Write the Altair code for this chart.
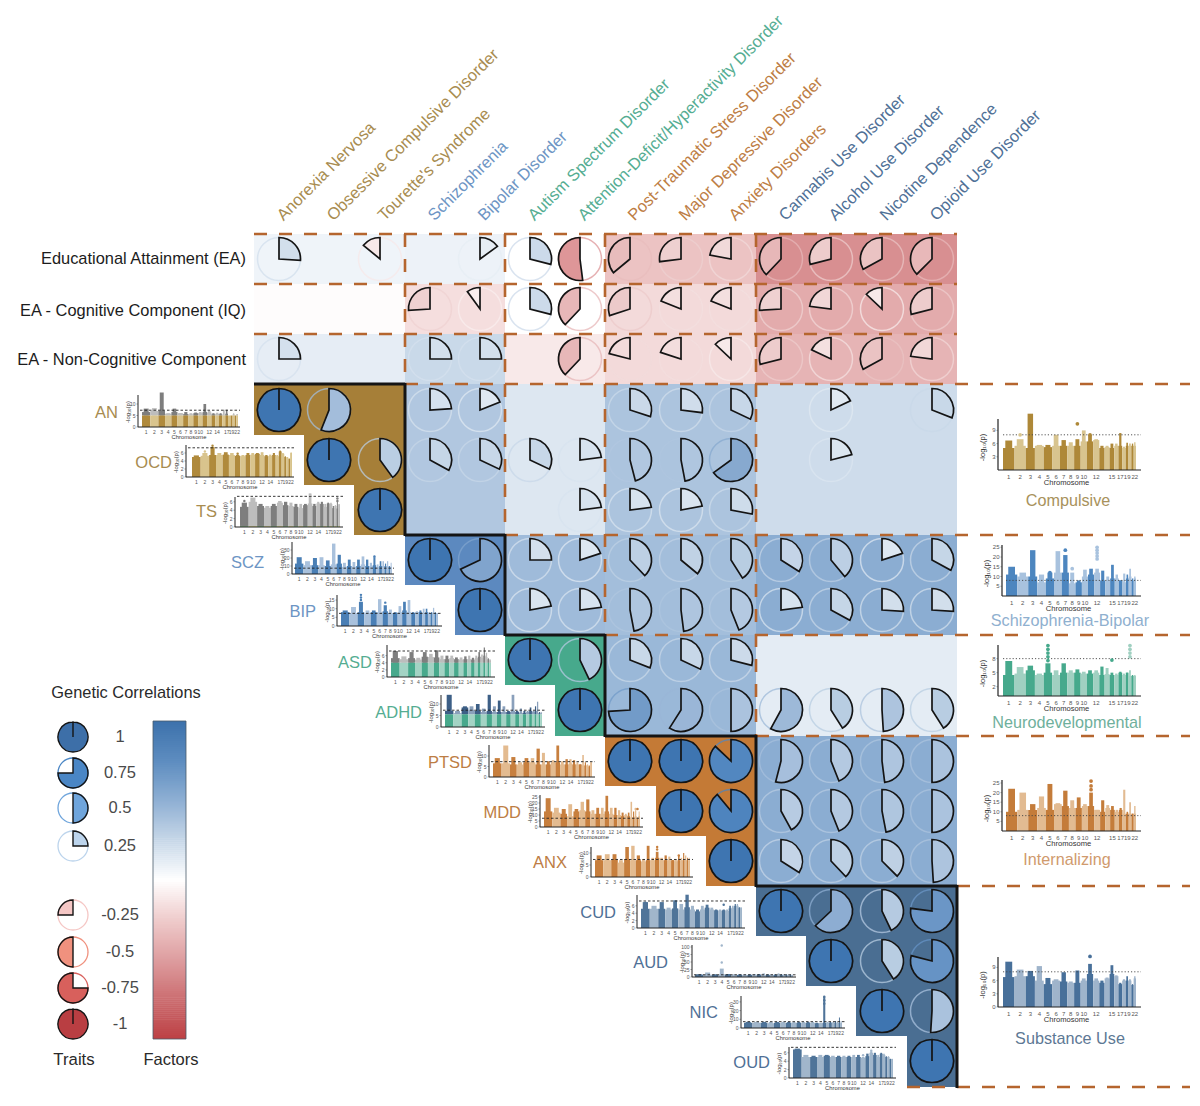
import math
import altair as alt
import numpy as np

_ = None
FONT = "Liberation Sans"
TRAITS = ["AN", "OCD", "TS", "SCZ", "BIP", "ASD", "ADHD", "PTSD", "MDD", "ANX", "CUD", "AUD", "NIC", "OUD"]
FULL_NAMES = ["Anorexia Nervosa", "Obsessive Compulsive Disorder", "Tourette's Syndrome", "Schizophrenia",
              "Bipolar Disorder", "Autism Spectrum Disorder", "Attention-Deficit/Hyperactivity Disorder",
              "Post-Traumatic Stress Disorder", "Major Depressive Disorder", "Anxiety Disorders",
              "Cannabis Use Disorder", "Alcohol Use Disorder", "Nicotine Dependence", "Opioid Use Disorder"]
EA_ROWS = ["Educational Attainment (EA)", "EA - Cognitive Component (IQ)", "EA - Non-Cognitive Component"]
FACTORS = ["Compulsive", "Schizophrenia-Bipolar", "Neurodevelopmental", "Internalizing", "Substance Use"]
BLOCKS = [(0, 3), (3, 5), (5, 7), (7, 10), (10, 14)]

# genetic correlations drawn as pies: 3 EA rows + 14 trait rows, 14 columns
PIE_R = [
    [.26, _, -.14, _, .15, .29, -.52, -.36, -.27, -.22, -.38, -.29, -.33, -.375],
    [_, _, _, -.26, -.10, .29, -.38, -.30, -.19, -.19, -.26, -.23, -.13, -.29],
    [.25, _, _, .25, .25, _, -.38, -.21, -.20, -.13, -.29, -.18, -.33, -.23],
    [1, .56, _, .24, .19, _, _, .30, .27, .32, _, .18, _, .31],
    [_, 1, .40, .33, .32, .32, .23, .46, .47, .65, _, .21, _, _],
    [_, _, 1, _, _, _, .23, .23, .22, .28, _, _, _, _],
    [_, _, _, 1, .68, .25, .20, .38, .36, .41, .34, .39, .20, .33],
    [_, _, _, _, 1, .22, .23, .47, .48, .44, .23, .33, .26, .26],
    [_, _, _, _, _, 1, .43, .31, .32, .29, _, _, _, _],
    [_, _, _, _, _, _, 1, .74, .59, .50, .58, .41, .49, .41],
    [_, _, _, _, _, _, _, 1, 1, .87, .54, .44, .48, .50],
    [_, _, _, _, _, _, _, _, 1, .89, .42, .44, .47, .50],
    [_, _, _, _, _, _, _, _, _, 1, .34, .38, .375, .49],
    [_, _, _, _, _, _, _, _, _, _, 1, .63, .43, .77],
    [_, _, _, _, _, _, _, _, _, _, _, 1, .41, .79],
    [_, _, _, _, _, _, _, _, _, _, _, _, 1, .51],
    [_, _, _, _, _, _, _, _, _, _, _, _, _, 1],
]
# factor-level correlations shown as cell shading
EA_FACTOR = [[.07, .08, 0, -.30, -.58], [-.015, -.16, 0, -.18, -.43], [.11, .24, -.11, -.18, -.38]]
FACTOR_FACTOR = [[_, .35, .15, .37, .22], [_, _, .43, .41, .52], [_, _, _, .45, .12], [_, _, _, _, .52], [_, _, _, _, _]]

LEGEND_VALUES = [1, .75, .5, .25, -.25, -.5, -.75, -1]
LEGEND_LABELS = ["1", "0.75", "0.5", "0.25", "-0.25", "-0.5", "-0.75", "-1"]
LEGEND_COLORS = ["#3d6fa8", "#4a86c5", "#6fa5dc", "#bcd4ec", "#f5c7c5", "#f0917e", "#d8605c", "#b93e42"]

# palette
GROUP_BLOCK = ["#a67f38", "#5c89bf", "#47a98c", "#c47a36", "#4a6e92"]
GROUP_TEXT = ["#a88c50", "#6d95c4", "#55ad92", "#bd7d44", "#4f7096"]
FACTOR_TEXT = ["#a8925c", "#8fb0cf", "#6fb09c", "#d09a6d", "#5d7894"]
CELL_STOPS = [(-1, "#bd4145"), (-.75, "#cc6f72"), (-.5, "#de9ea0"), (-.25, "#efcccc"), (0, "#ffffff"),
              (.25, "#c7d7e8"), (.5, "#8fb0d4"), (.75, "#5e8dc0"), (1, "#3d72ac")]
PIE_STOPS = [(-1, "#b93e42"), (-.52, "#de9698"), (-.4, "#e6b2b3"), (-.3, "#eccaca"), (-.15, "#f6e6e6"), (0, "#ffffff"),
             (.2, "#dde7f1"), (.3, "#cad9e9"), (.45, "#b2c8e0"), (.56, "#a3bddb"), (.65, "#87a9cf"),
             (.77, "#6b96c6"), (.88, "#4f85bf"), (1, "#3e75b1")]
DASH_BROWN = "#b5652e"
INK = "#141414"


def ramp(v, stops):
    for (a, ca), (b, cb) in zip(stops, stops[1:]):
        if a <= v <= b:
            t = (v - a) / (b - a)
            rgb = [round(int(ca[i:i + 2], 16) * (1 - t) + int(cb[i:i + 2], 16) * t) for i in (1, 3, 5)]
            return "#%02x%02x%02x" % tuple(rgb)
    return stops[-1][1]


def gx(c):
    return round(254 + 50.2 * c)


def gy(r):
    return round(234 + 50.15 * r)


CHR_MB = [249, 243, 198, 191, 181, 171, 159, 146, 141, 135, 135, 133, 115, 107, 102, 90, 81, 78, 59, 63, 48, 51]
TICKS_TRAIT = [1, 2, 3, 4, 5, 6, 7, 8, 9, 10, 12, 14, 17, 19, 22]
TICKS_FACTOR = [1, 2, 3, 4, 5, 6, 7, 8, 9, 10, 12, 15, 17, 19, 22]
GOLD = ("#b08a3c", "#d9c48d")
GRAY = ("#7e7e7e", "#bdbdbd")
BLUE = ("#4a7fb5", "#a9c1dc")
TEAL = ("#48a98c", "#a3d3c4")
ORNG = ("#c77f3e", "#e3bb90")
NAVY = ("#4f7499", "#a1b6cb")

# trait Manhattan panels: sky = typical top per chromosome, peak = tallest signal per chromosome
SKY_AN = [6.5, 7, 7, 5.8, 6.5, 6, 5.6, 5.5, 6, 6, 6.5, 6.3, 5.5, 5.8, 5.5, 5.3, 5.8, 5, 5, 5.5, 5, 5.5]
PEAK_AN = [8, 8.2, 15, 6, 8, 6, 6.5, 6, 6.3, 6.5, 10, 7, 6, 6.2, 6, 7.5, 7.5, 5, 5, 6, 5, 5.5]
SKY_OCD = [5, 5.3, 5.5, 5.5, 5.6, 5.5, 5.3, 5.2, 5.5, 5.6, 5.8, 5.5, 5.2, 5.3, 5.5, 5.2, 6.4, 5.8, 5, 4.8, 4.5, 6]
PEAK_OCD = [5.4, 6, 7.5, 6, 6.2, 6, 5.5, 5.5, 6, 6, 6, 6.2, 5.5, 5.6, 6, 5.5, 6.6, 6, 5.2, 5, 4.6, 6.2]
SKY_TS = [4.8, 6, 5, 4.6, 5, 5.8, 5.2, 5, 4.8, 4.5, 5.2, 5.6, 5, 5.6, 5.5, 4.8, 5.6, 5.5, 4.5, 5, 4.4, 5.4]
PEAK_TS = [5.8, 7, 5.5, 5, 5.5, 6.2, 6, 5.8, 5.5, 5.5, 5.5, 8, 5.5, 6, 6, 5.5, 5.8, 5.8, 5, 5.2, 6.2, 5.4]
SKY_SCZ = [13, 11, 11, 11, 10, 12, 13, 9, 10, 9, 10, 12, 10, 10, 11, 9, 10, 10, 10, 10, 9, 9]
PEAK_SCZ = [21, 16, 20, 21, 17, 38, 24, 14, 18, 15, 18, 22, 18, 14, 21, 12, 16, 16, 13, 16, 10, 14]
SKY_BIP = [8, 7.5, 8, 7.5, 8, 8, 8.5, 7.5, 7.5, 8, 9, 8, 7.5, 8, 8, 7.5, 8, 7.5, 7.5, 8, 7.5, 7.5]
PEAK_BIP = [9, 11, 14, 9, 9, 15.5, 12, 9.5, 8, 11.5, 14, 15, 8, 8.5, 9, 10, 10, 8, 8, 10.5, 8, 7.5]
SKY_ASD = [5.3, 5, 5.3, 4.9, 5.7, 5.6, 5.5, 5, 5, 5.3, 5, 4.9, 5, 5, 4.9, 5.3, 5.7, 5.4, 6, 5.6, 5, 4.7]
PEAK_ASD = [7.3, 5.8, 7, 5.4, 7, 6.5, 7.5, 6, 6, 6, 5.5, 5.5, 5.8, 6, 5.4, 6, 7, 6.3, 8.3, 6.8, 5.3, 5]
SKY_ADHD = [7, 6, 8.5, 7.5, 7, 6.5, 7, 6.5, 6.5, 6.5, 6.5, 7, 6.5, 6.2, 6, 6.5, 7, 6.5, 7, 6, 6, 6]
PEAK_ADHD = [14, 7, 9, 9, 10, 8, 14, 9, 11.5, 9, 7, 14, 7, 8, 7, 7, 8.5, 7, 9, 11, 6.5, 6.5]
SKY_PTSD = [6.5, 6.5, 6, 6, 7, 7, 6, 6, 6, 7, 7, 6, 6, 6.5, 6, 6, 6, 5.5, 5.5, 5.5, 5, 7]
PEAK_PTSD = [9, 15, 9.5, 7, 9, 9, 13.5, 11.5, 7.5, 8, 15, 7.5, 8.5, 8.5, 8, 7, 6, 10.5, 7, 6, 5.5, 7]
SKY_MDD = [13, 12, 11, 9, 13, 14, 13, 11, 11, 11, 13, 11, 10, 10, 9, 10, 9, 8, 8, 9, 7, 9]
PEAK_MDD = [24, 16, 15, 19, 15, 21, 23, 14, 16, 16, 26, 16, 16, 14, 12, 11, 12, 21, 13, 14, 8, 13]
SKY_ANX = [7, 7, 7.2, 6, 7.5, 7, 7, 6.5, 7, 7, 8, 7, 7, 7, 7, 6.5, 7, 7, 7, 7, 7, 7]
PEAK_ANX = [9, 9.5, 9.5, 7, 12.5, 13, 9, 7.5, 13, 8, 10.5, 8, 9, 8.5, 7, 7.5, 9, 8, 10, 9, 8, 8]
SKY_CUD = [5.2, 5.2, 5.2, 5, 5.3, 5, 5.6, 5, 4.5, 5, 5.5, 5, 4.8, 4.7, 4.8, 4.6, 5.3, 5.5, 6, 6, 5.5, 5.5]
PEAK_CUD = [7, 6, 7, 5.5, 7.5, 6.5, 9, 6, 5, 6, 6.3, 5.5, 5, 5, 5, 5, 6, 6, 6.5, 6.5, 5.6, 5.6]
SKY_AUD = [8, 8, 7, 9, 8, 7, 7, 7, 7, 8, 7, 7, 7, 7, 7, 8, 7, 7, 7, 7, 7, 7]
PEAK_AUD = [9, 15, 9, 28, 10, 9, 9, 9, 9, 10, 10, 12, 9, 9, 9, 12, 9, 10, 9, 9, 8, 8]
SKY_NIC = [6, 6, 6, 5.5, 6, 6, 6, 6, 6, 6, 6, 6, 5.5, 5.5, 6, 6, 6, 6, 6, 6, 6, 6]
PEAK_NIC = [7, 7, 7, 7, 7, 7, 7, 7, 7, 7, 7, 7, 6, 6, 36, 7, 7, 7, 8, 7, 12, 8]
SKY_OUD = [6.8, 5, 5, 5, 5.3, 5, 5, 5, 5, 5, 5, 4.8, 5.2, 6, 5.5, 5, 5.8, 5.5, 5, 5, 4.5, 4.5]
PEAK_OUD = [7, 5.5, 5.3, 5.5, 5.5, 5.3, 5.3, 5.3, 5.3, 5.5, 5.5, 5, 5.8, 6.3, 6, 5.5, 6, 5.8, 5.2, 5.2, 4.6, 4.6]
# factor Manhattan panels
SKY_COMP = [5, 5.5, 5, 5.5, 5.2, 5.5, 5.5, 5.5, 5.5, 6.5, 6.5, 6.8, 5, 5.2, 5, 5.5, 5.5, 5, 5.5, 5.5, 5.5, 5.5]
PEAK_COMP = [6.7, 7, 12.8, 5.7, 5.7, 8, 6.8, 6.3, 7, 9, 8, 7, 5.5, 5.5, 6, 6, 8.4, 5.3, 6.2, 6, 6, 6.3]
SKY_SB = [11, 10, 10, 7, 9, 12, 12, 6.5, 7, 10, 11, 12, 8, 8, 9, 9, 8, 7, 9, 10, 8, 9]
PEAK_SB = [15, 12, 23.5, 11, 12, 23, 21, 12, 8, 13.5, 14, 14, 13, 10, 16, 11, 8, 11.5, 11, 14, 9, 10]
SKY_ND = [4.5, 4.8, 5.5, 4.5, 5, 4.5, 5, 5, 5, 4.8, 4.8, 5, 4.5, 4.7, 4.5, 4.5, 5, 4.5, 5, 4.3, 4.3, 4.3]
PEAK_ND = [7.5, 6.2, 6.5, 4.8, 7, 5.5, 7, 5.5, 5.7, 5.2, 5.5, 5.5, 6.3, 6, 5, 4.8, 5.2, 4.8, 5, 5.5, 4.5, 4.5]
SKY_INT = [10, 11, 11, 12, 11, 14, 13, 12, 12, 13, 13, 11, 10, 12, 11, 10, 11, 9, 9, 9, 9, 9]
PEAK_INT = [22, 20, 14, 18, 24.5, 14.5, 21, 16, 17.5, 14, 20, 11, 16, 13.5, 13, 11, 12, 21.5, 10, 15, 9, 13]
SKY_SU = [6.8, 7, 7, 6, 5.2, 6, 5.8, 5.5, 5.5, 6, 7.5, 6, 5.5, 6.5, 7.5, 7, 5.2, 6, 6, 6, 5, 6.5]
PEAK_SU = [10.3, 8.5, 8.2, 9.3, 6.6, 6.3, 7.9, 5.8, 8.3, 6.5, 9.8, 6.5, 6, 6.7, 9.5, 7.2, 5.5, 6.3, 7, 6.3, 5.2, 7]

# scale of each panel: axis x0, x1, first bar, last bar, baseline, top, px per unit, threshold, y ticks
PANELS_T = [
    dict(box=(138, 240, 142, 238, 427, 395), ppu=2.3, thr=7.3, yt=[0, 5, 10], col=GOLD, sky=SKY_AN, peak=PEAK_AN, cap=5, up=GRAY, dots=[]),
    dict(box=(186, 294, 192, 292, 477, 445), ppu=4.0, thr=7.3, yt=[0, 2, 4, 6], col=GOLD, sky=SKY_OCD, peak=PEAK_OCD, cap=None, up=None, dots=[(2, 7.8), (1, 6.4), (6, 5.8)]),
    dict(box=(235, 343, 240, 340, 527, 497), ppu=4.2, thr=7.3, yt=[0, 2, 4, 6], col=("#7fa67f", "#c9c68a"), sky=SKY_TS, peak=PEAK_TS, cap=.25, up=GRAY, dots=[(0, 6.2), (20, 6.8), (20, 6.2), (11, 7.6)]),
    dict(box=(292, 394, 295, 392, 574, 542), ppu=.8, thr=7.3, yt=[0, 10, 20, 30], col=BLUE, sky=SKY_SCZ, peak=PEAK_SCZ, cap=None, up=None, dots=[(14, 22)]),
    dict(box=(337, 442, 341, 438, 626, 595), ppu=1.73, thr=7.3, yt=[0, 5, 10, 15], col=BLUE, sky=SKY_BIP, peak=PEAK_BIP, cap=None, up=None, dots=[(2, 18), (2, 16.5), (2, 15), (6, 13.5)]),
    dict(box=(387, 495, 391, 491, 677, 645), ppu=3.56, thr=7.3, yt=[0, 2, 4, 6], col=TEAL, sky=SKY_ASD, peak=PEAK_ASD, cap=4, up=GRAY, dots=[]),
    dict(box=(441, 545, 445, 542, 727, 695), ppu=2.3, thr=7.3, yt=[0, 5, 10], col=TEAL, sky=SKY_ADHD, peak=PEAK_ADHD, cap=5.5, up=("#3d5f86", "#8aa0bb"), dots=[]),
    dict(box=(489, 595, 493, 592, 777, 745), ppu=2.1, thr=7.3, yt=[0, 5, 10], col=ORNG, sky=SKY_PTSD, peak=PEAK_PTSD, cap=None, up=None, dots=[]),
    dict(box=(540, 643, 544, 640, 827, 795), ppu=1.2, thr=7.3, yt=[0, 5, 10, 15, 20, 25], col=ORNG, sky=SKY_MDD, peak=PEAK_MDD, cap=None, up=None, dots=[(19, 15), (20, 15)]),
    dict(box=(591, 693, 595, 690, 877, 847), ppu=2.4, thr=7.3, yt=[0, 5, 10], col=ORNG, sky=SKY_ANX, peak=PEAK_ANX, cap=None, up=None, dots=[(10, 12.5), (10, 11.5), (16, 9)]),
    dict(box=(637, 745, 641, 742, 928, 895), ppu=3.7, thr=7.3, yt=[0, 2, 4, 6], col=NAVY, sky=SKY_CUD, peak=PEAK_CUD, cap=None, up=None, dots=[(0, 6.8), (14, 6.3)]),
    dict(box=(692, 796, 695, 793, 977, 945), ppu=.3, thr=7.3, yt=[0, 25, 50, 75, 100], col=NAVY, sky=SKY_AUD, peak=PEAK_AUD, cap=None, up=None, dots=[(3, 105), (3, 48)]),
    dict(box=(741, 845, 744, 842, 1028, 996), ppu=.87, thr=7.3, yt=[0, 10, 20, 30], col=NAVY, sky=SKY_NIC, peak=PEAK_NIC, cap=None, up=None, dots=[(14, 36), (14, 32), (14, 28)]),
    dict(box=(789, 896, 793, 893, 1078, 1047), ppu=4.2, thr=7.3, yt=[0, 2, 4, 6], col=NAVY, sky=SKY_OUD, peak=PEAK_OUD, cap=None, up=None, dots=[(11, 5.4), (13, 6.5)]),
]
PANELS_F = [
    dict(box=(998, 1141, 1003, 1136, 470, 419), ppu=4.4, thr=8, yt=[3, 6, 9], col=("#ae8838", "#d8c48f"), sky=SKY_COMP, peak=PEAK_COMP, cap=None, up=None, dots=[(8, 10.5), (1, 8), (10, 8)]),
    dict(box=(1002, 1141, 1006, 1136, 596, 545), ppu=1.95, thr=8, yt=[5, 10, 15, 20, 25], col=("#4d86bf", "#a8c2de"), sky=SKY_SB, peak=PEAK_SB, cap=None, up=None, dots=[(11, 25), (11, 23.5), (11, 22), (11, 20.5), (11, 19), (7, 14), (6, 23.5), (4, 12)]),
    dict(box=(998, 1141, 1003, 1136, 696, 645), ppu=4.67, thr=8, yt=[2, 5, 8], col=("#46a98c", "#a0d0c1"), sky=SKY_ND, peak=PEAK_ND, cap=None, up=None, dots=[(4, 10.8), (4, 10), (4, 9.2), (4, 8.4), (4, 7.6), (19, 10.8), (19, 10), (19, 9.2), (19, 8.4), (14, 7.7)]),
    dict(box=(1002, 1141, 1006, 1136, 831, 780), ppu=1.92, thr=8, yt=[5, 10, 15, 20, 25], col=("#c47c3a", "#e2bb92"), sky=SKY_INT, peak=PEAK_INT, cap=None, up=None, dots=[(10, 26), (10, 23.5), (10, 21.5), (4, 17), (4, 15)]),
    dict(box=(998, 1141, 1003, 1136, 1007, 957), ppu=4.4, thr=8, yt=[0, 3, 6, 9], col=("#48709a", "#9fb4cb"), sky=SKY_SU, peak=PEAK_SU, cap=None, up=None, dots=[(10, 11.5)]),
]
TRAIT_LABEL_RIGHT = [118, 172, 217, 264, 316, 372, 422, 472, 521, 567, 616, 668, 718, 770]
TRAIT_LABEL_Y = [413, 463, 512, 563, 612, 663, 713, 763, 813, 863, 913, 963, 1013, 1063]
FACTOR_TITLE_X = [1068, 1070, 1067, 1067, 1070]
FACTOR_TITLE_Y = [501, 621, 723, 860, 1039]
EA_ROW_Y = [259, 311, 360]

rects, rules_solid, rules_frame, rules_thin_dash, rules_dots, rules_big, rules_black, texts_l, texts_c, texts_r, dots_rows = ([] for _i in range(11))
rings, pies = [], []


def rect(x, x2, y, y2, c):
    rects.append(dict(x=x, x2=x2, y=y, y2=y2, c=c))


def label(store, x, y, t, s, c, a=0):
    store.append(dict(x=x, y=y, t=t, s=s, c=c, a=a))


# ----- matrix cells -----
for r, row in enumerate(EA_FACTOR):
    for f, v in enumerate(row):
        rect(gx(BLOCKS[f][0]), gx(BLOCKS[f][1]), gy(r), gy(r + 1), ramp(v, CELL_STOPS))
for i, row in enumerate(FACTOR_FACTOR):
    for f, v in enumerate(row):
        if v is not None:
            rect(gx(BLOCKS[f][0]), gx(BLOCKS[f][1]), gy(3 + BLOCKS[i][0]), gy(3 + BLOCKS[i][1]), ramp(v, CELL_STOPS))
for f, (a, b) in enumerate(BLOCKS):
    for k in range(a, b):
        rect(gx(k), gx(b), gy(3 + k), gy(4 + k), GROUP_BLOCK[f])

# ----- pies -----
TWO_PI = 2 * math.pi


def pie_row(cx, cy, v, fill, store_ring, store_pie, ring=True):
    a = abs(v) * TWO_PI if abs(v) < 1 else TWO_PI - .0006
    t0, t1 = (0, a) if v > 0 else (TWO_PI - a, TWO_PI)
    if ring:
        store_ring.append(dict(x=cx, y=cy, t0=0, t1=TWO_PI, c=fill))
    store_pie.append(dict(x=cx, y=cy, t0=t0, t1=t1, c=fill))


for r, row in enumerate(PIE_R):
    for c, v in enumerate(row):
        if v is not None:
            pie_row(gx(c + .5), gy(r + .5), v, ramp(v, PIE_STOPS), rings, pies, ring=abs(v) < 1)

# ----- dashed and black block lines -----
for r in (0, 1, 2):
    rules_big.append(dict(x=gx(0), x2=gx(14), y=gy(r), y2=gy(r)))
for f, (a, b) in enumerate(BLOCKS):
    rules_big.append(dict(x=gx(b), x2=1190, y=gy(3 + a), y2=gy(3 + a)))
    rules_black.append(dict(x=gx(a), x2=gx(b), y=gy(3 + a), y2=gy(3 + a)))
    rules_black.append(dict(x=gx(b), x2=gx(b), y=gy(3 + a) - 1, y2=gy(3 + b) + 1))
    if b < 14:
        rules_big.append(dict(x=gx(b), x2=gx(b), y=gy(0), y2=gy(3 + a)))
rules_big.append(dict(x=gx(13), x2=1190, y=gy(17), y2=gy(17)))


# ----- Manhattan panels -----
def panel(p, ticks, small):
    x0, x1, bx0, bx1, base, top = p["box"]
    total = sum(CHR_MB)

    def xp(mb):
        return bx0 + (bx1 - bx0) * mb / total

    def yp(v):
        return base - v * p["ppu"]
    start = 0
    mids = []
    for i, mb in enumerate(CHR_MB):
        idx = i % 2
        a, b = xp(start), xp(start + mb)
        mid = (a + b) / 2
        mids.append(mid)
        sky, peak = p["sky"][i], p["peak"][i]
        hw = (b - a) * .3
        cap = p["cap"]
        if cap is None:
            rect(a, b, yp(sky), base, p["col"][idx])
            rect(mid - hw, mid + hw, yp(peak), base, p["col"][idx])
        else:
            rect(a, b, yp(sky), yp(cap), p["up"][idx])
            rect(mid - hw, mid + hw, yp(peak), yp(cap), p["up"][idx])
            rect(a, b, yp(cap), base, p["col"][idx])
        start += mb
    for i, v in p["dots"]:
        dots_rows.append(dict(x=mids[i], y=yp(v), s=6 if small else 14, c=p["col"][i % 2] if p["cap"] is None else p["up"][i % 2]))
    w = 1 if small else 1.2
    rules_solid.append(dict(x=x0, x2=x0, y=top, y2=base, c="#222222", w=w))
    rules_solid.append(dict(x=x0, x2=x1, y=base, y2=base, c="#222222", w=w))
    (rules_thin_dash if small else rules_dots).append(dict(x=bx0 if not small else x0 + 2, x2=x1, y=yp(p["thr"]), y2=yp(p["thr"])))
    fs_tick = 5 if small else 6
    for t in p["yt"]:
        rules_solid.append(dict(x=x0 - 1.5, x2=x0, y=yp(t), y2=yp(t), c="#444444", w=.5))
        label(texts_r, x0 - 2.5, yp(t), str(t), fs_tick, "#555555")
    for t in ticks:
        label(texts_c, mids[t - 1], base + (5 if small else 6.5), str(t), fs_tick, "#555555")
    label(texts_c, (x0 + x1) / 2 + (0 if small else -3), base + (10 if small else 13), "Chromosome", 5.8 if small else 7.6, "#333333")
    label(texts_c, x0 - (10 if small else 15), (top + base) / 2 + (1 if small else 3), "-log₁₀(p)", 6 if small else 7.5, "#333333", 270)


for p in PANELS_T:
    panel(p, TICKS_TRAIT, True)
for p in PANELS_F:
    panel(p, TICKS_FACTOR, False)

# ----- text -----
group_of = [f for f, (a, b) in enumerate(BLOCKS) for _k in range(a, b)]
for i, name in enumerate(FULL_NAMES):
    label(texts_l, gx(i + .5) + 1, 218, name, 16.5, GROUP_TEXT[group_of[i]], 315)
for i, name in enumerate(TRAITS):
    label(texts_r, TRAIT_LABEL_RIGHT[i], TRAIT_LABEL_Y[i], name, 16.5, GROUP_TEXT[group_of[i]])
for i, name in enumerate(EA_ROWS):
    label(texts_r, 246, EA_ROW_Y[i], name, 16.4, "#1c1c1c")
for i, name in enumerate(FACTORS):
    label(texts_c, FACTOR_TITLE_X[i], FACTOR_TITLE_Y[i], name, 16.2, FACTOR_TEXT[i])

# ----- legend -----
leg_rings, leg_pies = [], []
LEG_Y = [737, 773, 808, 846, 915, 952, 988, 1024]
for v, lab, col, y in zip(LEGEND_VALUES, LEGEND_LABELS, LEGEND_COLORS, LEG_Y):
    pie_row(73, y, v, col, leg_rings, leg_pies, ring=abs(v) < 1)
    label(texts_c, 120, y, lab, 16.5, "#4a4a4a")
label(texts_c, 126, 693, "Genetic Correlations", 16.4, "#2a2a2a")
label(texts_c, 74, 1060, "Traits", 16.8, "#2a2a2a")
label(texts_c, 171, 1060, "Factors", 16.5, "#2a2a2a")

BAR_X0, BAR_X1, BAR_Y0, BAR_Y1 = 153, 186, 721, 1039
grad_values = np.linspace(1, -1, 160)
step = (BAR_Y1 - BAR_Y0) / len(grad_values)
grad = [dict(x=BAR_X0, x2=BAR_X1, y=BAR_Y0 + k * step, y2=min(BAR_Y1, BAR_Y0 + (k + 1) * step + .6), c=ramp(float(v), CELL_STOPS)) for k, v in enumerate(grad_values)]
for a, b, y, y2 in [(BAR_X0, BAR_X1, BAR_Y0, BAR_Y0), (BAR_X0, BAR_X1, BAR_Y1, BAR_Y1), (BAR_X0, BAR_X0, BAR_Y0, BAR_Y1), (BAR_X1, BAR_X1, BAR_Y0, BAR_Y1)]:
    rules_frame.append(dict(x=a, x2=b, y=y, y2=y2, c="#4a5a6a", w=.8))

# ----- chart -----
W, H = 1184, 1090
X = alt.X("x:Q", scale=alt.Scale(domain=[8, 8 + W], zero=False, nice=False), axis=None)
Y = alt.Y("y:Q", scale=alt.Scale(domain=[8 + H, 8], zero=False, nice=False), axis=None)
X2, Y2 = alt.X2("x2:Q"), alt.Y2("y2:Q")
CS = alt.Stroke("c:N", scale=None, legend=None)


def df(rows):
    return alt.Data(values=rows)


def rect_layer(rows):
    return alt.Chart(df(rows)).mark_rect(strokeWidth=0).encode(x=X, x2=X2, y=Y, y2=Y2, fill=alt.Fill("c:N", scale=None, legend=None))


def ring_layer(rows, radius, width, op):
    return alt.Chart(df(rows)).mark_arc(radius=radius, fillOpacity=0, strokeWidth=width, strokeOpacity=op).encode(
        x=X, y=Y, theta=alt.Theta("t0:Q", scale=None, stack=None), theta2=alt.Theta2("t1:Q"), stroke=CS)


def pie_layer(rows, radius, width):
    return alt.Chart(df(rows)).mark_arc(radius=radius, stroke=INK, strokeWidth=width, strokeJoin="miter").encode(
        x=X, y=Y, theta=alt.Theta("t0:Q", scale=None, stack=None), theta2=alt.Theta2("t1:Q"),
        fill=alt.Fill("c:N", scale=None, legend=None))


def rule_layer(rows, **kw):
    return alt.Chart(df(rows)).mark_rule(**kw).encode(x=X, x2=X2, y=Y, y2=Y2)


def styled_rules(rows):
    return alt.Chart(df(rows)).mark_rule().encode(x=X, x2=X2, y=Y, y2=Y2, stroke=CS, strokeWidth=alt.StrokeWidth("w:Q", scale=None, legend=None))


def text_layer(rows, align):
    return alt.Chart(df(rows)).mark_text(align=align, baseline="middle", font=FONT).encode(
        x=X, y=Y, text=alt.Text("t:N"), size=alt.Size("s:Q", scale=None, legend=None),
        angle=alt.Angle("a:Q", scale=None), fill=alt.Fill("c:N", scale=None, legend=None))


layers = [
    rect_layer(rects),
    ring_layer(rings, 21.5, 1.5, .75),
    pie_layer(pies, 21.5, 1.7),
    rule_layer(rules_big, stroke=DASH_BROWN, strokeWidth=2.6, strokeDash=[13, 12]),
    rule_layer(rules_black, stroke=INK, strokeWidth=3),
    styled_rules(rules_solid),
    rule_layer(rules_thin_dash, stroke="#222222", strokeWidth=.9, strokeDash=[2.5, 2]),
    rule_layer(rules_dots, stroke="#444444", strokeWidth=.9, strokeDash=[1.2, 2]),
    alt.Chart(df(dots_rows)).mark_circle(opacity=1).encode(x=X, y=Y, size=alt.Size("s:Q", scale=None, legend=None), fill=alt.Fill("c:N", scale=None, legend=None)),
    ring_layer(leg_rings, 15, 1.3, 1),
    pie_layer(leg_pies, 15, 1.4),
    rect_layer(grad),
    styled_rules(rules_frame),
    text_layer(texts_l, "left"),
    text_layer(texts_c, "center"),
    text_layer(texts_r, "right"),
]
chart = alt.layer(*layers).properties(
    width=W, height=H, padding=0, background="white", autosize=alt.AutoSizeParams(type="none")
).configure_view(stroke=None)

chart.save("out.html", embed_options={"renderer": "svg", "actions": False})
